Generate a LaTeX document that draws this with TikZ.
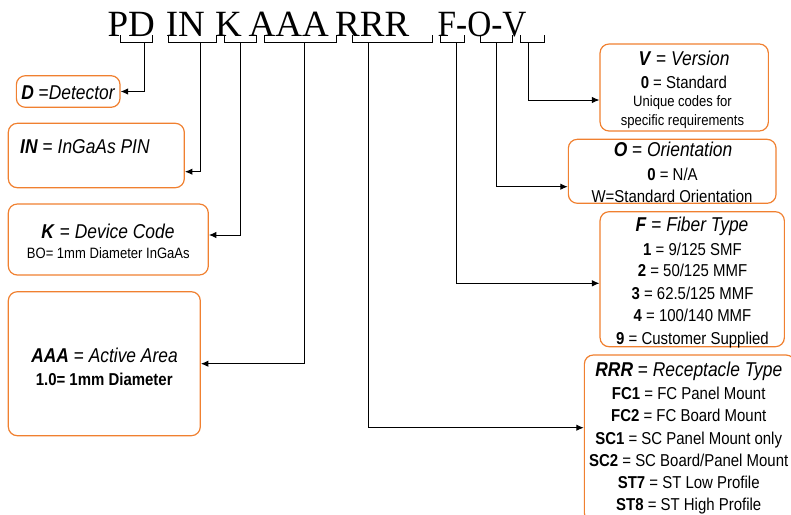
\documentclass[tikz,border=0pt]{standalone}
\usepackage{fontspec}
\setmainfont{Liberation Sans}
\newfontfamily\codefont{Liberation Serif}
\newfontfamily\boxfont[FakeStretch=0.87]{Liberation Sans}
\usepackage{xcolor}
\usetikzlibrary{arrows.meta}
\definecolor{boxorange}{RGB}{240,128,48}

% font sizes used in the boxes
\newcommand{\headsize}{\boxfont\fontsize{20}{22}\selectfont}
\newcommand{\linesize}{\boxfont\fontsize{17.2}{20}\selectfont}
\newcommand{\smallsize}{\boxfont\fontsize{15}{18}\selectfont}

\begin{document}
\begin{tikzpicture}[x=1pt,y=-1pt,
    box/.style={draw=boxorange,line width=1.2pt,rounded corners=9pt,inner sep=0pt},
    txt/.style={anchor=base,inner sep=0pt},
    lead/.style={line width=1pt,-{Latex[length=7.5pt,width=6.5pt]}},
    code/.style={anchor=base west,inner sep=0pt,font=\codefont\fontsize{37}{40}\selectfont}]
    \useasboundingbox (0,0) rectangle (791,514);

    % part number
    \node[code] (cpd) at (107.3,36.5) {PD};
    \node[code] (cin) at (165.7,36.5) {IN};
    \node[code] (ck) at (215,36.5) {K};
    \node[code] (caaa) at (248.5,36.5) {AAA};
    \node[code] (crrr) at (335,36.5) {RRR};
    \node[code] (cfov) at (437.5,36.5) {\scalebox{0.9}[1]{F-O-V}};

    % brackets under the letters
    \foreach \a/\b/\s/\n in {120.7/152.3/144/spd, 168.3/216/200.5/sin, 224/256.7/240.3/sk,
        264.3/336.7/304.2/saaa, 352.7/432.3/368.3/srrr, 440/464.3/456.7/sf,
        480/512.7/496.7/so, 520.7/544.3/528.5/sv} {
        \draw[line width=1pt] (\a,35) |- (\b,42.7) -- (\b,35);
        \coordinate (\n) at (\s,42.7);
    }

    % left boxes
    \node[box,minimum width=103.7pt,minimum height=31.6pt] (dbox) at (68.2,91.5) {};
    \node[txt,font=\headsize] (dtext) at (68.3,99.2) {\textbf{\textit{D}} =\textit{Detector}};

    \node[box,minimum width=176pt,minimum height=64.4pt] (inbox) at (96.3,155.5) {};
    \node[anchor=base west,inner sep=0pt,font=\headsize] (intext) at (20,153.9)
        {\textbf{\textit{IN}} = \textit{InGaAs PIN}};

    \node[box,minimum width=200pt,minimum height=71pt] (kbox) at (108.3,239.5) {};
    \node[txt,font=\headsize] (ktitle) at (108,238.2) {\textbf{\textit{K}} = \textit{Device Code}};
    \node[txt,font=\smallsize] (kline) at (108.3,258.1) {BO= 1mm Diameter InGaAs};

    \node[box,minimum width=192pt,minimum height=144pt] (abox) at (104.3,363.7) {};
    \node[txt,font=\headsize] (atitle) at (104.5,362.2) {\textbf{\textit{AAA}} = \textit{Active Area}};
    \node[txt,font=\linesize] (aline) at (104.2,385.2) {\textbf{1.0= 1mm Diameter}};

    % right boxes
    \node[box,minimum width=168.3pt,minimum height=87pt] (vbox) at (684.2,87.5) {};
    \node[txt,font=\headsize] (vtitle) at (684,65) {\textbf{\textit{V}} = \textit{Version}};
    \node[txt,font=\linesize] (vline1) at (683.8,88.3) {\textbf{0} = Standard};
    \node[txt,font=\smallsize] (vline2) at (682.5,106.7) {Unique codes for};
    \node[txt,font=\smallsize] (vline3) at (682.5,125) {specific requirements};

    \node[box,minimum width=207.7pt,minimum height=64pt] (obox) at (672.2,171.3) {};
    \node[txt,font=\headsize] (otitle) at (673,156.7) {\textbf{\textit{O}} = \textit{Orientation}};
    \node[txt,font=\linesize] (oline1) at (672.5,180) {\textbf{0} = N/A};
    \node[txt,font=\linesize] (oline2) at (672,202.3) {W=Standard Orientation};

    \node[box,minimum width=184.3pt,minimum height=135pt] (fbox) at (692.2,279.2) {};
    \node[txt,font=\headsize] (ftitle) at (692,231.7) {\textbf{\textit{F}} = \textit{Fiber Type}};
    \node[txt,font=\linesize] (fline1) at (692.5,255) {\textbf{1} = 9/125 SMF};
    \node[txt,font=\linesize] (fline2) at (692.5,276.7) {\textbf{2} = 50/125 MMF};
    \node[txt,font=\linesize] (fline3) at (692.5,299) {\textbf{3} = 62.5/125 MMF};
    \node[txt,font=\linesize] (fline4) at (692.5,321.7) {\textbf{4} = 100/140 MMF};
    \node[txt,font=\linesize] (fline5) at (692.5,344) {\textbf{9} = Customer Supplied};

    \node[box,minimum width=210.7pt,minimum height=167pt] (rbox) at (689.7,438.5) {};
    \node[txt,font=\headsize] (rtitle) at (688.8,376) {\textbf{\textit{RRR}} = \textit{Receptacle Type}};
    \node[txt,font=\linesize] (rline1) at (688.7,399.3) {\textbf{FC1} = FC Panel Mount};
    \node[txt,font=\linesize] (rline2) at (688.7,421.7) {\textbf{FC2} = FC Board Mount};
    \node[txt,font=\linesize] (rline3) at (688.7,444.3) {\textbf{SC1} = SC Panel Mount only};
    \node[txt,font=\linesize] (rline4) at (688.7,466) {\textbf{SC2} = SC Board/Panel Mount};
    \node[txt,font=\linesize] (rline5) at (688.7,488.3) {\textbf{ST7} = ST Low Profile};
    \node[txt,font=\linesize] (rline6) at (688.7,510.7) {\textbf{ST8} = ST High Profile};

    % leaders from the brackets to the boxes
    \draw[lead] (spd) |- (dbox.east);
    \draw[lead] (sin) |- ([yshift=-16.2pt]inbox.east);
    \draw[lead] (sk) |- ([yshift=4.5pt]kbox.east);
    \draw[lead] (saaa) |- (abox.east);
    \draw[lead] (srrr) |- ([yshift=10.8pt]rbox.west);
    \draw[lead] (sf) |- ([yshift=-4.1pt]fbox.west);
    \draw[lead] (so) |- ([yshift=-15.4pt]obox.west);
    \draw[lead] (sv) |- ([yshift=-12.5pt]vbox.west);
\end{tikzpicture}
\end{document}
